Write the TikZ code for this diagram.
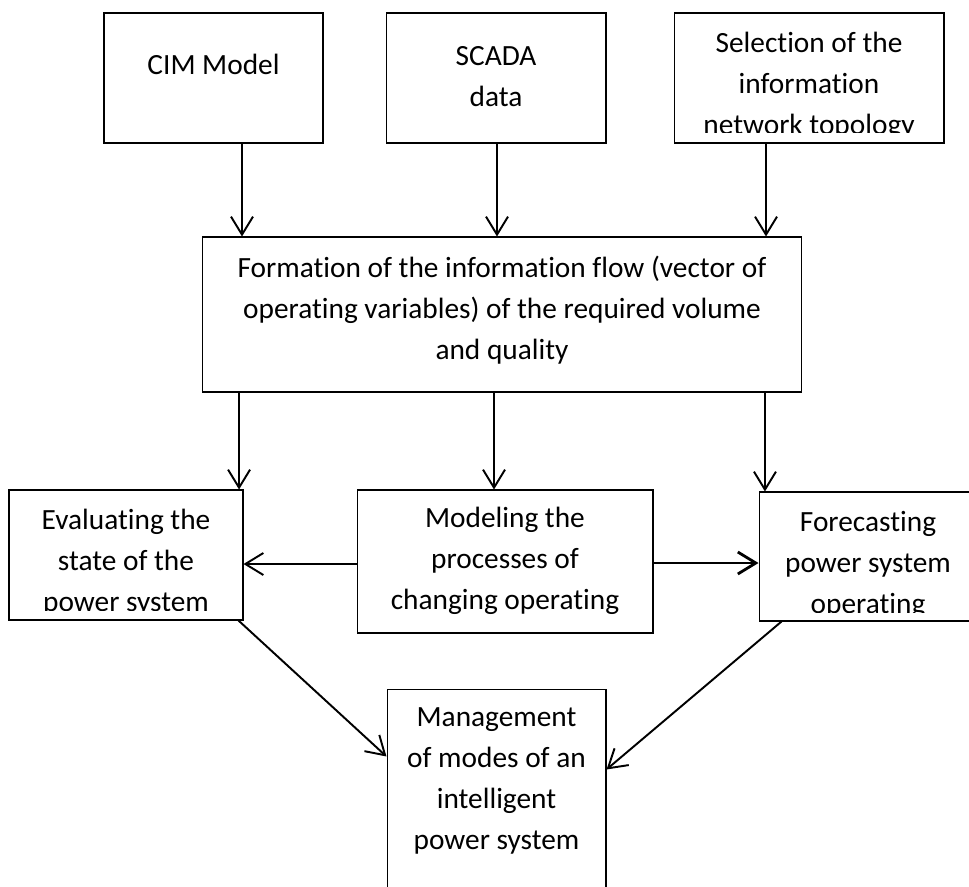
\documentclass[tikz,border=0pt]{standalone}
\usepackage{fontspec}
\setmainfont{Carlito}[Ligatures=NoCommon]
\usetikzlibrary{arrows.meta,positioning}

\begin{document}
\begin{tikzpicture}[x=0.02cm,y=-0.02cm,
    box/.style={draw,line width=0.6pt,inner sep=0pt},
    txt/.style={align=center,inner sep=0pt,font=\fontsize{16.7}{23.3}\selectfont,execute at begin node=\strut},
    arr/.style={-{Straight Barb[length=0.36cm,width=0.44cm]},line width=1.1pt}]
  \clip (0,0) rectangle (969,886);
  % input blocks
  \node[box,minimum width=4.38cm,minimum height=2.6cm] (cim) at (213.5,78) {};
  \node[box,minimum width=4.4cm,minimum height=2.6cm] (scada) at (496,78) {};
  \node[box,minimum width=5.4cm,minimum height=2.6cm] (sel) at (809,78) {};
  \node[txt,below=0.67cm of cim.north] (cimtxt) {CIM Model};
  \node[txt,below=0.67cm of scada.north] (scadatxt) {SCADA\\data};
  \begin{scope}
    \clip (sel.north west) rectangle ([yshift=0.22cm]sel.south east);
    \node[txt,below=0.39cm of sel.north] (seltxt) {Selection of the\\information\\network topology};
  \end{scope}
  % information flow
  \node[box,minimum width=12cm,minimum height=3.1cm] (form) at (502,314.5) {};
  \node[txt,below=0.39cm of form.north] (formtxt) {Formation of the information flow (vector of\\operating variables) of the required volume\\and quality};
  % middle row
  \node[box,minimum width=4.68cm,minimum height=2.6cm] (eval) at (126,555) {};
  \node[box,minimum width=5.92cm,minimum height=2.86cm] (model) at (505,561.5) {};
  \node[box,minimum width=4.36cm,minimum height=2.58cm] (fore) at (868,556.5) {};
  \begin{scope}
    \clip (eval.north west) rectangle ([yshift=0.2cm]eval.south east);
    \node[txt,below=0.39cm of eval.north] (evaltxt) {Evaluating the\\state of the\\power system};
  \end{scope}
  \node[txt,below=0.35cm of model.north] (modeltxt) {Modeling the\\processes of\\changing operating};
  \begin{scope}
    \clip (fore.north west) rectangle ([yshift=0.18cm]fore.south east);
    \node[txt,below=0.39cm of fore.north] (foretxt) {Forecasting\\power system\\operating};
  \end{scope}
  % management
  \node[box,minimum width=4.38cm,minimum height=4.22cm] (mgmt) at (496.5,794.5) {};
  \node[txt,below=0.38cm of mgmt.north] (mgmttxt) {Management\\of modes of an\\intelligent\\power system};
  % arrows
  \draw[arr] ([xshift=0.57cm]cim.south) -- ([xshift=0.57cm]cim.south |- form.north);
  \draw[arr] ([xshift=0.02cm]scada.south) -- ([xshift=0.02cm]scada.south |- form.north);
  \draw[arr] ([xshift=-0.86cm]sel.south) -- ([xshift=-0.86cm]sel.south |- form.north);
  \draw[arr] ([xshift=-5.26cm]form.south) -- ([xshift=-5.26cm]form.south |- eval.north);
  \draw[arr] ([xshift=-0.16cm]form.south) -- ([xshift=-0.16cm]form.south |- model.north);
  \draw[arr] ([xshift=5.26cm]form.south) -- ([xshift=5.26cm]form.south |- fore.north);
  \draw[arr] ([yshift=-0.05cm]model.west) -- ([yshift=-0.05cm]model.west -| eval.east);
  \draw[arr,line width=1.6pt] ([yshift=-0.03cm]model.east) -- ([yshift=-0.03cm]model.east -| fore.west);
  \draw[arr] ([xshift=-0.1cm]eval.south east) -- ([yshift=-1.36cm]mgmt.north west);
  \draw[arr] ([xshift=0.46cm]fore.south west) -- ([yshift=-1.62cm]mgmt.north east);
\end{tikzpicture}
\end{document}
